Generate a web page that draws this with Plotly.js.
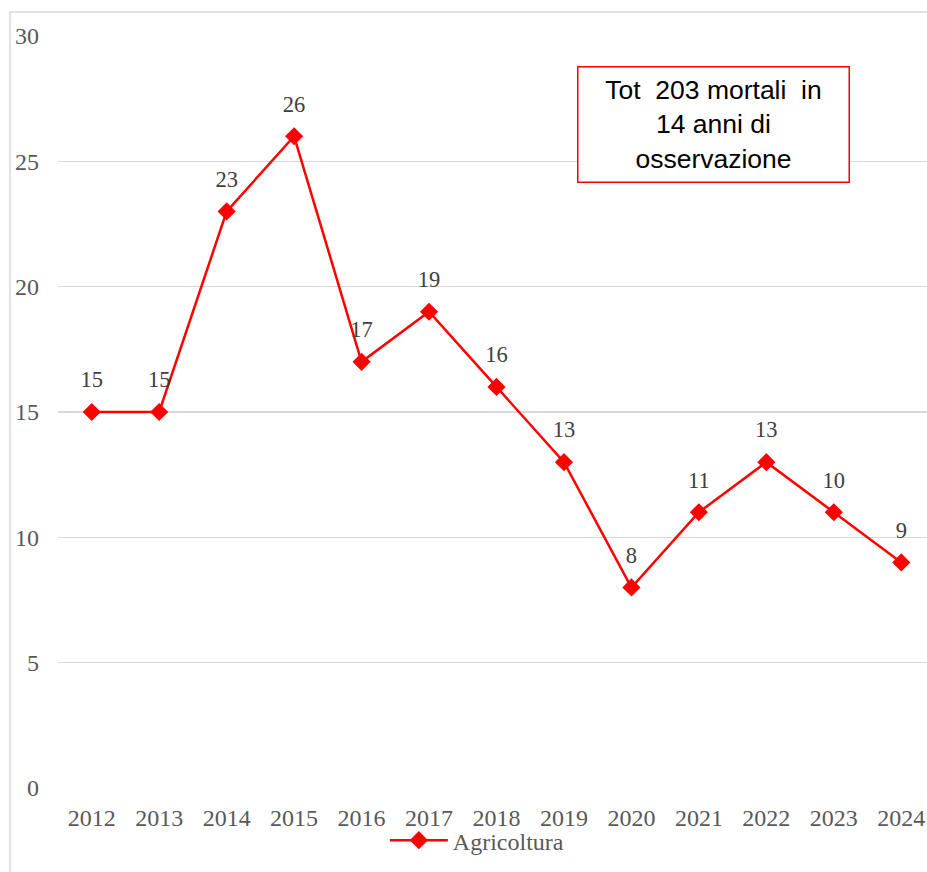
<!DOCTYPE html>
<html>
<head>
<meta charset="utf-8">
<script src="https://cdn.plot.ly/plotly-3.0.1.min.js"></script>
<style>html,body{margin:0;padding:0;background:#fff;overflow:hidden}</style>
</head>
<body>
<div id="chart" style="width:927px;height:872px"></div>
<script>
var years = ["2012","2013","2014","2015","2016","2017","2018","2019","2020","2021","2022","2023","2024"];
var deaths = [15,15,23,26,17,19,16,13,8,11,13,11,9];
var dataLabels = ["15","15","23","26","17","19","16","13","8","11","13","10","9"];
var yTicks = [0,5,10,15,20,25,30];
var seriesName = "Agricoltura";
var noteText = "Tot\u00A0 203 mortali\u00A0 in<br>14 anni di<br>osservazione";

var W = 927, H = 872, ML = 58, MR = 0, MT = 36, MB = 84;
var PW = W - ML - MR, PH = H - MT - MB;
function px2x(p){ return (p - ML) / PW; }
function px2y(p){ return (H - MB - p) / PH; }

var serif = "Liberation Serif, Times New Roman, serif";

var line = {
  x: years, y: deaths, type: "scatter", mode: "lines+markers", name: seriesName,
  line: {color: "#ff0000", width: 2.5},
  marker: {symbol: "diamond", size: 14, color: "#ff0000"},
  hoverinfo: "x+y"
};
var labels = {
  x: years, y: deaths, type: "scatter", mode: "markers+text", text: dataLabels,
  textposition: "top center", showlegend: false, hoverinfo: "skip",
  marker: {size: 29, opacity: 0},
  textfont: {family: serif, size: 22.5, color: "#404040"}
};

var layout = {
  width: W, height: H,
  margin: {l: ML, r: MR, t: MT, b: MB},
  paper_bgcolor: "#fff", plot_bgcolor: "#fff",
  showlegend: true,
  legend: {orientation: "h", x: 0.482, xanchor: "center", y: -0.04, yanchor: "top",
           itemwidth: 58, bgcolor: "rgba(0,0,0,0)",
           font: {family: serif, size: 24, color: "#595959"}},
  xaxis: {type: "category", range: [-0.5, 12.5 - 8/67.4], showgrid: false, zeroline: false,
          showline: false, ticks: "", ticklabelstandoff: 13,
          tickfont: {family: serif, size: 24, color: "#595959"}, fixedrange: true},
  yaxis: {range: [0, 30], tickvals: yTicks, showgrid: true, gridcolor: "#d9d9d9", gridwidth: 1.3,
          zeroline: false, showline: false, ticks: "", ticklabelstandoff: 18,
          tickfont: {family: serif, size: 24, color: "#595959"}, fixedrange: true},
  shapes: [
    {type: "rect", xref: "paper", yref: "paper", x0: px2x(10), x1: px2x(1000), y0: px2y(1000), y1: px2y(12),
     line: {color: "#d9d9d9", width: 1.5}, fillcolor: "rgba(0,0,0,0)", layer: "below"}
  ],
  annotations: [
    {xref: "paper", yref: "paper", x: px2x(713), y: px2y(125), xanchor: "center", yanchor: "middle",
     text: noteText, showarrow: false, align: "center",
     font: {family: "Arial, Liberation Sans, sans-serif", size: 26.5, color: "#000"},
     bordercolor: "#ff0000", borderwidth: 1.5, borderpad: 1, bgcolor: "#fff",
     width: 268, height: 112}
  ]
};

Plotly.newPlot("chart", [line, labels], layout, {displayModeBar: false, staticPlot: true});
</script>
</body>
</html>
